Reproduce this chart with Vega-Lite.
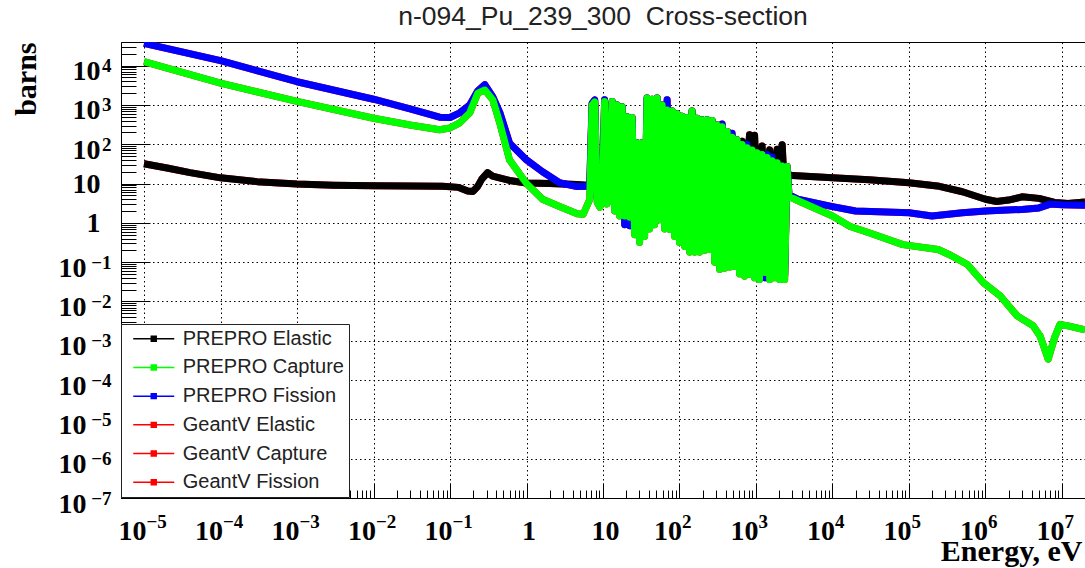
{
"$schema": "https://vega.github.io/schema/vega-lite/v6.json",
"width": 964, "height": 456,
"autosize": {"type": "none"},
"padding": {"left": 121, "top": 42, "right": 0, "bottom": 70},
"background": "white",
"title": {"text": "n-094_Pu_239_300 \u00a0Cross-section", "font": "Liberation Sans", "fontSize": 26.5, "fontWeight": "normal", "color": "#222", "anchor": "middle", "frame": "group", "baseline": "alphabetic", "offset": -10},
"config": {"view": {"stroke": "black", "strokeWidth": 1}},
"datasets": {
"pts": [
{"series":"PREPRO Elastic","energy":1e-5,"barns":32},{"series":"PREPRO Elastic","energy":2e-5,"barns":25},{"series":"PREPRO Elastic","energy":4e-5,"barns":19},{"series":"PREPRO Elastic","energy":1e-4,"barns":14},{"series":"PREPRO Elastic","energy":3e-4,"barns":11.2},{"series":"PREPRO Elastic","energy":1e-3,"barns":9.8},{"series":"PREPRO Elastic","energy":3e-3,"barns":9.1},{"series":"PREPRO Elastic","energy":1e-2,"barns":8.8},{"series":"PREPRO Elastic","energy":3e-2,"barns":8.7},{"series":"PREPRO Elastic","energy":0.08,"barns":8.6},{"series":"PREPRO Elastic","energy":0.13,"barns":8.0},{"series":"PREPRO Elastic","energy":0.17,"barns":6.5},{"series":"PREPRO Elastic","energy":0.2,"barns":6.3},{"series":"PREPRO Elastic","energy":0.23,"barns":8.5},{"series":"PREPRO Elastic","energy":0.26,"barns":13},{"series":"PREPRO Elastic","energy":0.31,"barns":19},{"series":"PREPRO Elastic","energy":0.36,"barns":15.5},{"series":"PREPRO Elastic","energy":0.6,"barns":12},{"series":"PREPRO Elastic","energy":1,"barns":10.3},{"series":"PREPRO Elastic","energy":2,"barns":10},{"series":"PREPRO Elastic","energy":4.5,"barns":9.5},{"series":"PREPRO Elastic","energy":6.7,"barns":9},{"series":"PREPRO Elastic","energy":7.8,"barns":40},{"series":"PREPRO Elastic","energy":9.1,"barns":4.6},{"series":"PREPRO Elastic","energy":10.5,"barns":30},{"series":"PREPRO Elastic","energy":11.3,"barns":4.6},{"series":"PREPRO Elastic","energy":13.2,"barns":25},{"series":"PREPRO Elastic","energy":16.5,"barns":6},{"series":"PREPRO Elastic","energy":17.8,"barns":20},{"series":"PREPRO Elastic","energy":20.7,"barns":6},{"series":"PREPRO Elastic","energy":24,"barns":20},{"series":"PREPRO Elastic","energy":27.9,"barns":5},{"series":"PREPRO Elastic","energy":37.7,"barns":40},{"series":"PREPRO Elastic","energy":43.9,"barns":5},{"series":"PREPRO Elastic","energy":51,"barns":40},{"series":"PREPRO Elastic","energy":59.3,"barns":5},{"series":"PREPRO Elastic","energy":68.9,"barns":30},{"series":"PREPRO Elastic","energy":80.1,"barns":5},{"series":"PREPRO Elastic","energy":93.1,"barns":30},{"series":"PREPRO Elastic","energy":108,"barns":4},{"series":"PREPRO Elastic","energy":126,"barns":30},{"series":"PREPRO Elastic","energy":146,"barns":4},{"series":"PREPRO Elastic","energy":170,"barns":40},{"series":"PREPRO Elastic","energy":198,"barns":4},{"series":"PREPRO Elastic","energy":230,"barns":50},{"series":"PREPRO Elastic","energy":267,"barns":4},{"series":"PREPRO Elastic","energy":310,"barns":60},{"series":"PREPRO Elastic","energy":361,"barns":4},{"series":"PREPRO Elastic","energy":419,"barns":80},{"series":"PREPRO Elastic","energy":452,"barns":195},{"series":"PREPRO Elastic","energy":487,"barns":4},{"series":"PREPRO Elastic","energy":566,"barns":5},{"series":"PREPRO Elastic","energy":658,"barns":120},{"series":"PREPRO Elastic","energy":709,"barns":5},{"series":"PREPRO Elastic","energy":824,"barns":175},{"series":"PREPRO Elastic","energy":889,"barns":5},{"series":"PREPRO Elastic","energy":958,"barns":170},{"series":"PREPRO Elastic","energy":1030,"barns":5},{"series":"PREPRO Elastic","energy":1200,"barns":90},{"series":"PREPRO Elastic","energy":1300,"barns":5},{"series":"PREPRO Elastic","energy":1510,"barns":72},{"series":"PREPRO Elastic","energy":1620,"barns":5},{"series":"PREPRO Elastic","energy":1890,"barns":75},{"series":"PREPRO Elastic","energy":2040,"barns":5},{"series":"PREPRO Elastic","energy":2200,"barns":97},{"series":"PREPRO Elastic","energy":2370,"barns":5},{"series":"PREPRO Elastic","energy":2550,"barns":22},{"series":"PREPRO Elastic","energy":2700,"barns":16},{"series":"PREPRO Elastic","energy":3000,"barns":16},{"series":"PREPRO Elastic","energy":1e4,"barns":14},{"series":"PREPRO Elastic","energy":3e4,"barns":12.5},{"series":"PREPRO Elastic","energy":1e5,"barns":10.5},{"series":"PREPRO Elastic","energy":2.5e5,"barns":8.5},{"series":"PREPRO Elastic","energy":5e5,"barns":6.2},{"series":"PREPRO Elastic","energy":1e6,"barns":4},{"series":"PREPRO Elastic","energy":1.4e6,"barns":3.5},{"series":"PREPRO Elastic","energy":2e6,"barns":3.8},{"series":"PREPRO Elastic","energy":3e6,"barns":4.6},{"series":"PREPRO Elastic","energy":5e6,"barns":4.2},{"series":"PREPRO Elastic","energy":8e6,"barns":3.3},{"series":"PREPRO Elastic","energy":1.2e7,"barns":3.1},{"series":"PREPRO Elastic","energy":2e7,"barns":3.4},

{"series":"GeantV Elastic","energy":1e-5,"barns":32},{"series":"GeantV Elastic","energy":2e-5,"barns":25},{"series":"GeantV Elastic","energy":4e-5,"barns":19},{"series":"GeantV Elastic","energy":1e-4,"barns":14},{"series":"GeantV Elastic","energy":3e-4,"barns":11.2},{"series":"GeantV Elastic","energy":1e-3,"barns":9.8},{"series":"GeantV Elastic","energy":3e-3,"barns":9.1},{"series":"GeantV Elastic","energy":1e-2,"barns":8.8},{"series":"GeantV Elastic","energy":3e-2,"barns":8.7},{"series":"GeantV Elastic","energy":0.08,"barns":8.6},{"series":"GeantV Elastic","energy":0.13,"barns":8.0},{"series":"GeantV Elastic","energy":0.17,"barns":6.5},{"series":"GeantV Elastic","energy":0.2,"barns":6.3},{"series":"GeantV Elastic","energy":0.23,"barns":8.5},{"series":"GeantV Elastic","energy":0.26,"barns":13},{"series":"GeantV Elastic","energy":0.31,"barns":19},{"series":"GeantV Elastic","energy":0.36,"barns":15.5},{"series":"GeantV Elastic","energy":0.6,"barns":12},{"series":"GeantV Elastic","energy":1,"barns":10.3},{"series":"GeantV Elastic","energy":2,"barns":10},{"series":"GeantV Elastic","energy":4.5,"barns":9.5},{"series":"GeantV Elastic","energy":6.7,"barns":9},{"series":"GeantV Elastic","energy":7.8,"barns":40},{"series":"GeantV Elastic","energy":9.1,"barns":4.6},{"series":"GeantV Elastic","energy":10.5,"barns":30},{"series":"GeantV Elastic","energy":11.3,"barns":4.6},{"series":"GeantV Elastic","energy":13.2,"barns":25},{"series":"GeantV Elastic","energy":16.5,"barns":6},{"series":"GeantV Elastic","energy":17.8,"barns":20},{"series":"GeantV Elastic","energy":20.7,"barns":6},{"series":"GeantV Elastic","energy":24,"barns":20},{"series":"GeantV Elastic","energy":27.9,"barns":5},{"series":"GeantV Elastic","energy":37.7,"barns":40},{"series":"GeantV Elastic","energy":43.9,"barns":5},{"series":"GeantV Elastic","energy":51,"barns":40},{"series":"GeantV Elastic","energy":59.3,"barns":5},{"series":"GeantV Elastic","energy":68.9,"barns":30},{"series":"GeantV Elastic","energy":80.1,"barns":5},{"series":"GeantV Elastic","energy":93.1,"barns":30},{"series":"GeantV Elastic","energy":108,"barns":4},{"series":"GeantV Elastic","energy":126,"barns":30},{"series":"GeantV Elastic","energy":146,"barns":4},{"series":"GeantV Elastic","energy":170,"barns":40},{"series":"GeantV Elastic","energy":198,"barns":4},{"series":"GeantV Elastic","energy":230,"barns":50},{"series":"GeantV Elastic","energy":267,"barns":4},{"series":"GeantV Elastic","energy":310,"barns":60},{"series":"GeantV Elastic","energy":361,"barns":4},{"series":"GeantV Elastic","energy":419,"barns":80},{"series":"GeantV Elastic","energy":452,"barns":195},{"series":"GeantV Elastic","energy":487,"barns":4},{"series":"GeantV Elastic","energy":566,"barns":5},{"series":"GeantV Elastic","energy":658,"barns":120},{"series":"GeantV Elastic","energy":709,"barns":5},{"series":"GeantV Elastic","energy":824,"barns":175},{"series":"GeantV Elastic","energy":889,"barns":5},{"series":"GeantV Elastic","energy":958,"barns":170},{"series":"GeantV Elastic","energy":1030,"barns":5},{"series":"GeantV Elastic","energy":1200,"barns":90},{"series":"GeantV Elastic","energy":1300,"barns":5},{"series":"GeantV Elastic","energy":1510,"barns":72},{"series":"GeantV Elastic","energy":1620,"barns":5},{"series":"GeantV Elastic","energy":1890,"barns":75},{"series":"GeantV Elastic","energy":2040,"barns":5},{"series":"GeantV Elastic","energy":2200,"barns":97},{"series":"GeantV Elastic","energy":2370,"barns":5},{"series":"GeantV Elastic","energy":2550,"barns":22},{"series":"GeantV Elastic","energy":2700,"barns":16},{"series":"GeantV Elastic","energy":3000,"barns":16},{"series":"GeantV Elastic","energy":1e4,"barns":14},{"series":"GeantV Elastic","energy":3e4,"barns":12.5},{"series":"GeantV Elastic","energy":1e5,"barns":10.5},{"series":"GeantV Elastic","energy":2.5e5,"barns":8.5},{"series":"GeantV Elastic","energy":5e5,"barns":6.2},{"series":"GeantV Elastic","energy":1e6,"barns":4},{"series":"GeantV Elastic","energy":1.4e6,"barns":3.5},{"series":"GeantV Elastic","energy":2e6,"barns":3.8},{"series":"GeantV Elastic","energy":3e6,"barns":4.6},{"series":"GeantV Elastic","energy":5e6,"barns":4.2},{"series":"GeantV Elastic","energy":8e6,"barns":3.3},{"series":"GeantV Elastic","energy":1.2e7,"barns":3.1},{"series":"GeantV Elastic","energy":2e7,"barns":3.4},

{"series":"PREPRO Capture","energy":1e-5,"barns":12600},{"series":"PREPRO Capture","energy":1e-4,"barns":3600},{"series":"PREPRO Capture","energy":1e-3,"barns":1230},{"series":"PREPRO Capture","energy":1e-2,"barns":460},{"series":"PREPRO Capture","energy":0.03,"barns":310},{"series":"PREPRO Capture","energy":0.073,"barns":235},{"series":"PREPRO Capture","energy":0.1,"barns":260},{"series":"PREPRO Capture","energy":0.134,"barns":350},{"series":"PREPRO Capture","energy":0.181,"barns":630},{"series":"PREPRO Capture","energy":0.231,"barns":2000},{"series":"PREPRO Capture","energy":0.285,"barns":2400},{"series":"PREPRO Capture","energy":0.363,"barns":1350},{"series":"PREPRO Capture","energy":0.447,"barns":350},{"series":"PREPRO Capture","energy":0.6,"barns":40},{"series":"PREPRO Capture","energy":1,"barns":10},{"series":"PREPRO Capture","energy":1.62,"barns":4},{"series":"PREPRO Capture","energy":2.7,"barns":2.6},{"series":"PREPRO Capture","energy":4.6,"barns":1.7},{"series":"PREPRO Capture","energy":5.5,"barns":1.65},{"series":"PREPRO Capture","energy":6.7,"barns":3.9},{"series":"PREPRO Capture","energy":7.2,"barns":1000},{"series":"PREPRO Capture","energy":7.8,"barns":1200},{"series":"PREPRO Capture","energy":8.4,"barns":3.3},{"series":"PREPRO Capture","energy":9.1,"barns":2.5},{"series":"PREPRO Capture","energy":9.8,"barns":3.5},{"series":"PREPRO Capture","energy":10.5,"barns":1230},{"series":"PREPRO Capture","energy":11.3,"barns":3},{"series":"PREPRO Capture","energy":12.2,"barns":5},{"series":"PREPRO Capture","energy":13.2,"barns":1230},{"series":"PREPRO Capture","energy":14.2,"barns":2},{"series":"PREPRO Capture","energy":15.3,"barns":1000},{"series":"PREPRO Capture","energy":16.5,"barns":1.5},{"series":"PREPRO Capture","energy":17.8,"barns":900},{"series":"PREPRO Capture","energy":19.2,"barns":1.5},{"series":"PREPRO Capture","energy":20.7,"barns":500},{"series":"PREPRO Capture","energy":22.3,"barns":1.4},{"series":"PREPRO Capture","energy":24.0,"barns":480},{"series":"PREPRO Capture","energy":25.9,"barns":0.5},{"series":"PREPRO Capture","energy":27.9,"barns":110},{"series":"PREPRO Capture","energy":30.1,"barns":0.32},{"series":"PREPRO Capture","energy":32.5,"barns":110},{"series":"PREPRO Capture","energy":35.0,"barns":0.45},{"series":"PREPRO Capture","energy":37.7,"barns":1500},{"series":"PREPRO Capture","energy":40.7,"barns":0.7},{"series":"PREPRO Capture","energy":43.9,"barns":1400},{"series":"PREPRO Capture","energy":47.3,"barns":0.9},{"series":"PREPRO Capture","energy":51.0,"barns":1500},{"series":"PREPRO Capture","energy":55.0,"barns":1.2},{"series":"PREPRO Capture","energy":59.3,"barns":1000},{"series":"PREPRO Capture","energy":63.9,"barns":0.7},{"series":"PREPRO Capture","energy":68.9,"barns":750},{"series":"PREPRO Capture","energy":74.3,"barns":0.68},{"series":"PREPRO Capture","energy":80.1,"barns":700},{"series":"PREPRO Capture","energy":86.3,"barns":0.45},{"series":"PREPRO Capture","energy":93.1,"barns":600},{"series":"PREPRO Capture","energy":100,"barns":0.32},{"series":"PREPRO Capture","energy":108,"barns":520},{"series":"PREPRO Capture","energy":117,"barns":0.25},{"series":"PREPRO Capture","energy":126,"barns":480},{"series":"PREPRO Capture","energy":136,"barns":0.18},{"series":"PREPRO Capture","energy":146,"barns":700},{"series":"PREPRO Capture","energy":158,"barns":0.18},{"series":"PREPRO Capture","energy":170,"barns":460},{"series":"PREPRO Capture","energy":183,"barns":0.18},{"series":"PREPRO Capture","energy":198,"barns":420},{"series":"PREPRO Capture","energy":213,"barns":0.2},{"series":"PREPRO Capture","energy":230,"barns":420},{"series":"PREPRO Capture","energy":248,"barns":0.21},{"series":"PREPRO Capture","energy":267,"barns":400},{"series":"PREPRO Capture","energy":288,"barns":0.1},{"series":"PREPRO Capture","energy":310,"barns":310},{"series":"PREPRO Capture","energy":335,"barns":0.065},{"series":"PREPRO Capture","energy":361,"barns":280},{"series":"PREPRO Capture","energy":389,"barns":0.07},{"series":"PREPRO Capture","energy":419,"barns":210},{"series":"PREPRO Capture","energy":452,"barns":0.075},{"series":"PREPRO Capture","energy":487,"barns":150},{"series":"PREPRO Capture","energy":525,"barns":0.078},{"series":"PREPRO Capture","energy":566,"barns":130},{"series":"PREPRO Capture","energy":610,"barns":0.05},{"series":"PREPRO Capture","energy":658,"barns":98},{"series":"PREPRO Capture","energy":709,"barns":0.044},{"series":"PREPRO Capture","energy":765,"barns":82},{"series":"PREPRO Capture","energy":824,"barns":0.049},{"series":"PREPRO Capture","energy":889,"barns":72},{"series":"PREPRO Capture","energy":958,"barns":0.04},{"series":"PREPRO Capture","energy":1030,"barns":61},{"series":"PREPRO Capture","energy":1110,"barns":0.036},{"series":"PREPRO Capture","energy":1200,"barns":55},{"series":"PREPRO Capture","energy":1300,"barns":0.055},{"series":"PREPRO Capture","energy":1400,"barns":46},{"series":"PREPRO Capture","energy":1510,"barns":0.036},{"series":"PREPRO Capture","energy":1620,"barns":38},{"series":"PREPRO Capture","energy":1750,"barns":0.04},{"series":"PREPRO Capture","energy":1890,"barns":34},{"series":"PREPRO Capture","energy":2040,"barns":0.036},{"series":"PREPRO Capture","energy":2200,"barns":28},{"series":"PREPRO Capture","energy":2370,"barns":0.036},{"series":"PREPRO Capture","energy":2550,"barns":27},{"series":"PREPRO Capture","energy":2700,"barns":4.7},{"series":"PREPRO Capture","energy":4000,"barns":3.3},{"series":"PREPRO Capture","energy":1e4,"barns":1.5},{"series":"PREPRO Capture","energy":1.7e4,"barns":0.81},{"series":"PREPRO Capture","energy":3e4,"barns":0.56},{"series":"PREPRO Capture","energy":8.3e4,"barns":0.28},{"series":"PREPRO Capture","energy":2.4e5,"barns":0.21},{"series":"PREPRO Capture","energy":3.5e5,"barns":0.15},{"series":"PREPRO Capture","energy":5.8e5,"barns":0.087},{"series":"PREPRO Capture","energy":9.4e5,"barns":0.03},{"series":"PREPRO Capture","energy":1.55e6,"barns":0.014},{"series":"PREPRO Capture","energy":2.6e6,"barns":0.0043},{"series":"PREPRO Capture","energy":4.2e6,"barns":0.0024},{"series":"PREPRO Capture","energy":5.2e6,"barns":0.0013},{"series":"PREPRO Capture","energy":6.6e6,"barns":0.00034},{"series":"PREPRO Capture","energy":8e6,"barns":0.0012},{"series":"PREPRO Capture","energy":9.4e6,"barns":0.0026},{"series":"PREPRO Capture","energy":1.2e7,"barns":0.0024},{"series":"PREPRO Capture","energy":2e7,"barns":0.0019},

{"series":"GeantV Capture","energy":1e-5,"barns":12600},{"series":"GeantV Capture","energy":1e-4,"barns":3600},{"series":"GeantV Capture","energy":1e-3,"barns":1230},{"series":"GeantV Capture","energy":1e-2,"barns":460},{"series":"GeantV Capture","energy":0.03,"barns":310},{"series":"GeantV Capture","energy":0.073,"barns":235},{"series":"GeantV Capture","energy":0.1,"barns":260},{"series":"GeantV Capture","energy":0.134,"barns":350},{"series":"GeantV Capture","energy":0.181,"barns":630},{"series":"GeantV Capture","energy":0.231,"barns":2000},{"series":"GeantV Capture","energy":0.285,"barns":2400},{"series":"GeantV Capture","energy":0.363,"barns":1350},{"series":"GeantV Capture","energy":0.447,"barns":350},{"series":"GeantV Capture","energy":0.6,"barns":40},{"series":"GeantV Capture","energy":1,"barns":10},{"series":"GeantV Capture","energy":1.62,"barns":4},{"series":"GeantV Capture","energy":2.7,"barns":2.6},{"series":"GeantV Capture","energy":4.6,"barns":1.7},{"series":"GeantV Capture","energy":5.5,"barns":1.65},{"series":"GeantV Capture","energy":6.7,"barns":3.9},{"series":"GeantV Capture","energy":7.2,"barns":1000},{"series":"GeantV Capture","energy":7.8,"barns":1200},{"series":"GeantV Capture","energy":8.4,"barns":3.3},{"series":"GeantV Capture","energy":9.1,"barns":2.5},{"series":"GeantV Capture","energy":9.8,"barns":3.5},{"series":"GeantV Capture","energy":10.5,"barns":1230},{"series":"GeantV Capture","energy":11.3,"barns":3},{"series":"GeantV Capture","energy":12.2,"barns":5},{"series":"GeantV Capture","energy":13.2,"barns":1230},{"series":"GeantV Capture","energy":14.2,"barns":2},{"series":"GeantV Capture","energy":15.3,"barns":1000},{"series":"GeantV Capture","energy":16.5,"barns":1.5},{"series":"GeantV Capture","energy":17.8,"barns":900},{"series":"GeantV Capture","energy":19.2,"barns":1.5},{"series":"GeantV Capture","energy":20.7,"barns":500},{"series":"GeantV Capture","energy":22.3,"barns":1.4},{"series":"GeantV Capture","energy":24.0,"barns":480},{"series":"GeantV Capture","energy":25.9,"barns":0.5},{"series":"GeantV Capture","energy":27.9,"barns":110},{"series":"GeantV Capture","energy":30.1,"barns":0.32},{"series":"GeantV Capture","energy":32.5,"barns":110},{"series":"GeantV Capture","energy":35.0,"barns":0.45},{"series":"GeantV Capture","energy":37.7,"barns":1500},{"series":"GeantV Capture","energy":40.7,"barns":0.7},{"series":"GeantV Capture","energy":43.9,"barns":1400},{"series":"GeantV Capture","energy":47.3,"barns":0.9},{"series":"GeantV Capture","energy":51.0,"barns":1500},{"series":"GeantV Capture","energy":55.0,"barns":1.2},{"series":"GeantV Capture","energy":59.3,"barns":1000},{"series":"GeantV Capture","energy":63.9,"barns":0.7},{"series":"GeantV Capture","energy":68.9,"barns":750},{"series":"GeantV Capture","energy":74.3,"barns":0.68},{"series":"GeantV Capture","energy":80.1,"barns":700},{"series":"GeantV Capture","energy":86.3,"barns":0.45},{"series":"GeantV Capture","energy":93.1,"barns":600},{"series":"GeantV Capture","energy":100,"barns":0.32},{"series":"GeantV Capture","energy":108,"barns":520},{"series":"GeantV Capture","energy":117,"barns":0.25},{"series":"GeantV Capture","energy":126,"barns":480},{"series":"GeantV Capture","energy":136,"barns":0.18},{"series":"GeantV Capture","energy":146,"barns":700},{"series":"GeantV Capture","energy":158,"barns":0.18},{"series":"GeantV Capture","energy":170,"barns":460},{"series":"GeantV Capture","energy":183,"barns":0.18},{"series":"GeantV Capture","energy":198,"barns":420},{"series":"GeantV Capture","energy":213,"barns":0.2},{"series":"GeantV Capture","energy":230,"barns":420},{"series":"GeantV Capture","energy":248,"barns":0.21},{"series":"GeantV Capture","energy":267,"barns":400},{"series":"GeantV Capture","energy":288,"barns":0.1},{"series":"GeantV Capture","energy":310,"barns":310},{"series":"GeantV Capture","energy":335,"barns":0.065},{"series":"GeantV Capture","energy":361,"barns":280},{"series":"GeantV Capture","energy":389,"barns":0.07},{"series":"GeantV Capture","energy":419,"barns":210},{"series":"GeantV Capture","energy":452,"barns":0.075},{"series":"GeantV Capture","energy":487,"barns":150},{"series":"GeantV Capture","energy":525,"barns":0.078},{"series":"GeantV Capture","energy":566,"barns":130},{"series":"GeantV Capture","energy":610,"barns":0.05},{"series":"GeantV Capture","energy":658,"barns":98},{"series":"GeantV Capture","energy":709,"barns":0.044},{"series":"GeantV Capture","energy":765,"barns":82},{"series":"GeantV Capture","energy":824,"barns":0.049},{"series":"GeantV Capture","energy":889,"barns":72},{"series":"GeantV Capture","energy":958,"barns":0.04},{"series":"GeantV Capture","energy":1030,"barns":61},{"series":"GeantV Capture","energy":1110,"barns":0.036},{"series":"GeantV Capture","energy":1200,"barns":55},{"series":"GeantV Capture","energy":1300,"barns":0.055},{"series":"GeantV Capture","energy":1400,"barns":46},{"series":"GeantV Capture","energy":1510,"barns":0.036},{"series":"GeantV Capture","energy":1620,"barns":38},{"series":"GeantV Capture","energy":1750,"barns":0.04},{"series":"GeantV Capture","energy":1890,"barns":34},{"series":"GeantV Capture","energy":2040,"barns":0.036},{"series":"GeantV Capture","energy":2200,"barns":28},{"series":"GeantV Capture","energy":2370,"barns":0.036},{"series":"GeantV Capture","energy":2550,"barns":27},{"series":"GeantV Capture","energy":2700,"barns":4.7},{"series":"GeantV Capture","energy":4000,"barns":3.3},{"series":"GeantV Capture","energy":1e4,"barns":1.5},{"series":"GeantV Capture","energy":1.7e4,"barns":0.81},{"series":"GeantV Capture","energy":3e4,"barns":0.56},{"series":"GeantV Capture","energy":8.3e4,"barns":0.28},{"series":"GeantV Capture","energy":2.4e5,"barns":0.21},{"series":"GeantV Capture","energy":3.5e5,"barns":0.15},{"series":"GeantV Capture","energy":5.8e5,"barns":0.087},{"series":"GeantV Capture","energy":9.4e5,"barns":0.03},{"series":"GeantV Capture","energy":1.55e6,"barns":0.014},{"series":"GeantV Capture","energy":2.6e6,"barns":0.0043},{"series":"GeantV Capture","energy":4.2e6,"barns":0.0024},{"series":"GeantV Capture","energy":5.2e6,"barns":0.0013},{"series":"GeantV Capture","energy":6.6e6,"barns":0.00034},{"series":"GeantV Capture","energy":8e6,"barns":0.0012},{"series":"GeantV Capture","energy":9.4e6,"barns":0.0026},{"series":"GeantV Capture","energy":1.2e7,"barns":0.0024},{"series":"GeantV Capture","energy":2e7,"barns":0.0019},

{"series":"PREPRO Fission","energy":1e-5,"barns":37000},{"series":"PREPRO Fission","energy":1e-4,"barns":13500},{"series":"PREPRO Fission","energy":1e-3,"barns":3900},{"series":"PREPRO Fission","energy":1e-2,"barns":1400},{"series":"PREPRO Fission","energy":0.03,"barns":800},{"series":"PREPRO Fission","energy":0.073,"barns":490},{"series":"PREPRO Fission","energy":0.1,"barns":480},{"series":"PREPRO Fission","energy":0.134,"barns":630},{"series":"PREPRO Fission","energy":0.181,"barns":1000},{"series":"PREPRO Fission","energy":0.231,"barns":2300},{"series":"PREPRO Fission","energy":0.285,"barns":3300},{"series":"PREPRO Fission","energy":0.363,"barns":1600},{"series":"PREPRO Fission","energy":0.447,"barns":650},{"series":"PREPRO Fission","energy":0.6,"barns":107},{"series":"PREPRO Fission","energy":1,"barns":40},{"series":"PREPRO Fission","energy":1.62,"barns":20},{"series":"PREPRO Fission","energy":2.7,"barns":10.5},{"series":"PREPRO Fission","energy":4.6,"barns":8.4},{"series":"PREPRO Fission","energy":6,"barns":8.5},{"series":"PREPRO Fission","energy":6.7,"barns":9},{"series":"PREPRO Fission","energy":7.2,"barns":1100},{"series":"PREPRO Fission","energy":7.8,"barns":1350},{"series":"PREPRO Fission","energy":8.4,"barns":4.3},{"series":"PREPRO Fission","energy":9.1,"barns":3.3},{"series":"PREPRO Fission","energy":9.8,"barns":4.5},{"series":"PREPRO Fission","energy":10.5,"barns":1350},{"series":"PREPRO Fission","energy":11.3,"barns":3.9},{"series":"PREPRO Fission","energy":12.2,"barns":6.5},{"series":"PREPRO Fission","energy":13.2,"barns":1230},{"series":"PREPRO Fission","energy":14.2,"barns":2.6},{"series":"PREPRO Fission","energy":15.3,"barns":1000},{"series":"PREPRO Fission","energy":16.5,"barns":1.9},{"series":"PREPRO Fission","energy":17.8,"barns":900},{"series":"PREPRO Fission","energy":19.2,"barns":0.9},{"series":"PREPRO Fission","energy":20.7,"barns":500},{"series":"PREPRO Fission","energy":22.3,"barns":0.85},{"series":"PREPRO Fission","energy":24.0,"barns":480},{"series":"PREPRO Fission","energy":25.9,"barns":0.65},{"series":"PREPRO Fission","energy":27.9,"barns":110},{"series":"PREPRO Fission","energy":30.1,"barns":0.42},{"series":"PREPRO Fission","energy":32.5,"barns":110},{"series":"PREPRO Fission","energy":35.0,"barns":0.6},{"series":"PREPRO Fission","energy":37.7,"barns":1500},{"series":"PREPRO Fission","energy":40.7,"barns":0.9},{"series":"PREPRO Fission","energy":43.9,"barns":1400},{"series":"PREPRO Fission","energy":47.3,"barns":1.2},{"series":"PREPRO Fission","energy":51.0,"barns":1500},{"series":"PREPRO Fission","energy":55.0,"barns":1.6},{"series":"PREPRO Fission","energy":59.3,"barns":1000},{"series":"PREPRO Fission","energy":63.9,"barns":0.9},{"series":"PREPRO Fission","energy":68.9,"barns":1350},{"series":"PREPRO Fission","energy":74.3,"barns":0.9},{"series":"PREPRO Fission","energy":80.1,"barns":700},{"series":"PREPRO Fission","energy":86.3,"barns":0.6},{"series":"PREPRO Fission","energy":93.1,"barns":600},{"series":"PREPRO Fission","energy":100,"barns":0.42},{"series":"PREPRO Fission","energy":108,"barns":520},{"series":"PREPRO Fission","energy":117,"barns":0.33},{"series":"PREPRO Fission","energy":126,"barns":480},{"series":"PREPRO Fission","energy":136,"barns":0.23},{"series":"PREPRO Fission","energy":146,"barns":700},{"series":"PREPRO Fission","energy":158,"barns":0.23},{"series":"PREPRO Fission","energy":170,"barns":460},{"series":"PREPRO Fission","energy":183,"barns":0.23},{"series":"PREPRO Fission","energy":198,"barns":420},{"series":"PREPRO Fission","energy":213,"barns":0.26},{"series":"PREPRO Fission","energy":230,"barns":420},{"series":"PREPRO Fission","energy":248,"barns":0.27},{"series":"PREPRO Fission","energy":267,"barns":400},{"series":"PREPRO Fission","energy":288,"barns":0.13},{"series":"PREPRO Fission","energy":310,"barns":310},{"series":"PREPRO Fission","energy":335,"barns":0.085},{"series":"PREPRO Fission","energy":361,"barns":330},{"series":"PREPRO Fission","energy":389,"barns":0.09},{"series":"PREPRO Fission","energy":419,"barns":210},{"series":"PREPRO Fission","energy":452,"barns":0.1},{"series":"PREPRO Fission","energy":487,"barns":190},{"series":"PREPRO Fission","energy":525,"barns":0.1},{"series":"PREPRO Fission","energy":566,"barns":130},{"series":"PREPRO Fission","energy":610,"barns":0.065},{"series":"PREPRO Fission","energy":658,"barns":98},{"series":"PREPRO Fission","energy":709,"barns":0.057},{"series":"PREPRO Fission","energy":765,"barns":100},{"series":"PREPRO Fission","energy":824,"barns":0.064},{"series":"PREPRO Fission","energy":889,"barns":72},{"series":"PREPRO Fission","energy":958,"barns":0.052},{"series":"PREPRO Fission","energy":1030,"barns":61},{"series":"PREPRO Fission","energy":1110,"barns":0.047},{"series":"PREPRO Fission","energy":1200,"barns":55},{"series":"PREPRO Fission","energy":1300,"barns":0.04},{"series":"PREPRO Fission","energy":1400,"barns":55},{"series":"PREPRO Fission","energy":1510,"barns":0.047},{"series":"PREPRO Fission","energy":1620,"barns":48},{"series":"PREPRO Fission","energy":1750,"barns":0.052},{"series":"PREPRO Fission","energy":1890,"barns":34},{"series":"PREPRO Fission","energy":2040,"barns":0.047},{"series":"PREPRO Fission","energy":2200,"barns":28},{"series":"PREPRO Fission","energy":2370,"barns":0.047},{"series":"PREPRO Fission","energy":2550,"barns":27},{"series":"PREPRO Fission","energy":2700,"barns":5.2},{"series":"PREPRO Fission","energy":3500,"barns":4},{"series":"PREPRO Fission","energy":1e4,"barns":2.6},{"series":"PREPRO Fission","energy":2e4,"barns":2.0},{"series":"PREPRO Fission","energy":1e5,"barns":1.8},{"series":"PREPRO Fission","energy":2e5,"barns":1.5},{"series":"PREPRO Fission","energy":5e5,"barns":1.8},{"series":"PREPRO Fission","energy":1e6,"barns":2.0},{"series":"PREPRO Fission","energy":3e6,"barns":2.2},{"series":"PREPRO Fission","energy":5e6,"barns":2.4},{"series":"PREPRO Fission","energy":7e6,"barns":3.0},{"series":"PREPRO Fission","energy":1e7,"barns":2.9},{"series":"PREPRO Fission","energy":2e7,"barns":2.8},

{"series":"GeantV Fission","energy":1e-5,"barns":37000},{"series":"GeantV Fission","energy":1e-4,"barns":13500},{"series":"GeantV Fission","energy":1e-3,"barns":3900},{"series":"GeantV Fission","energy":1e-2,"barns":1400},{"series":"GeantV Fission","energy":0.03,"barns":800},{"series":"GeantV Fission","energy":0.073,"barns":490},{"series":"GeantV Fission","energy":0.1,"barns":480},{"series":"GeantV Fission","energy":0.134,"barns":630},{"series":"GeantV Fission","energy":0.181,"barns":1000},{"series":"GeantV Fission","energy":0.231,"barns":2300},{"series":"GeantV Fission","energy":0.285,"barns":3300},{"series":"GeantV Fission","energy":0.363,"barns":1600},{"series":"GeantV Fission","energy":0.447,"barns":650},{"series":"GeantV Fission","energy":0.6,"barns":107},{"series":"GeantV Fission","energy":1,"barns":40},{"series":"GeantV Fission","energy":1.62,"barns":20},{"series":"GeantV Fission","energy":2.7,"barns":10.5},{"series":"GeantV Fission","energy":4.6,"barns":8.4},{"series":"GeantV Fission","energy":6,"barns":8.5},{"series":"GeantV Fission","energy":6.7,"barns":9},{"series":"GeantV Fission","energy":7.2,"barns":1100},{"series":"GeantV Fission","energy":7.8,"barns":1350},{"series":"GeantV Fission","energy":8.4,"barns":4.3},{"series":"GeantV Fission","energy":9.1,"barns":3.3},{"series":"GeantV Fission","energy":9.8,"barns":4.5},{"series":"GeantV Fission","energy":10.5,"barns":1350},{"series":"GeantV Fission","energy":11.3,"barns":3.9},{"series":"GeantV Fission","energy":12.2,"barns":6.5},{"series":"GeantV Fission","energy":13.2,"barns":1230},{"series":"GeantV Fission","energy":14.2,"barns":2.6},{"series":"GeantV Fission","energy":15.3,"barns":1000},{"series":"GeantV Fission","energy":16.5,"barns":1.9},{"series":"GeantV Fission","energy":17.8,"barns":900},{"series":"GeantV Fission","energy":19.2,"barns":0.9},{"series":"GeantV Fission","energy":20.7,"barns":500},{"series":"GeantV Fission","energy":22.3,"barns":0.85},{"series":"GeantV Fission","energy":24.0,"barns":480},{"series":"GeantV Fission","energy":25.9,"barns":0.65},{"series":"GeantV Fission","energy":27.9,"barns":110},{"series":"GeantV Fission","energy":30.1,"barns":0.42},{"series":"GeantV Fission","energy":32.5,"barns":110},{"series":"GeantV Fission","energy":35.0,"barns":0.6},{"series":"GeantV Fission","energy":37.7,"barns":1500},{"series":"GeantV Fission","energy":40.7,"barns":0.9},{"series":"GeantV Fission","energy":43.9,"barns":1400},{"series":"GeantV Fission","energy":47.3,"barns":1.2},{"series":"GeantV Fission","energy":51.0,"barns":1500},{"series":"GeantV Fission","energy":55.0,"barns":1.6},{"series":"GeantV Fission","energy":59.3,"barns":1000},{"series":"GeantV Fission","energy":63.9,"barns":0.9},{"series":"GeantV Fission","energy":68.9,"barns":1350},{"series":"GeantV Fission","energy":74.3,"barns":0.9},{"series":"GeantV Fission","energy":80.1,"barns":700},{"series":"GeantV Fission","energy":86.3,"barns":0.6},{"series":"GeantV Fission","energy":93.1,"barns":600},{"series":"GeantV Fission","energy":100,"barns":0.42},{"series":"GeantV Fission","energy":108,"barns":520},{"series":"GeantV Fission","energy":117,"barns":0.33},{"series":"GeantV Fission","energy":126,"barns":480},{"series":"GeantV Fission","energy":136,"barns":0.23},{"series":"GeantV Fission","energy":146,"barns":700},{"series":"GeantV Fission","energy":158,"barns":0.23},{"series":"GeantV Fission","energy":170,"barns":460},{"series":"GeantV Fission","energy":183,"barns":0.23},{"series":"GeantV Fission","energy":198,"barns":420},{"series":"GeantV Fission","energy":213,"barns":0.26},{"series":"GeantV Fission","energy":230,"barns":420},{"series":"GeantV Fission","energy":248,"barns":0.27},{"series":"GeantV Fission","energy":267,"barns":400},{"series":"GeantV Fission","energy":288,"barns":0.13},{"series":"GeantV Fission","energy":310,"barns":310},{"series":"GeantV Fission","energy":335,"barns":0.085},{"series":"GeantV Fission","energy":361,"barns":330},{"series":"GeantV Fission","energy":389,"barns":0.09},{"series":"GeantV Fission","energy":419,"barns":210},{"series":"GeantV Fission","energy":452,"barns":0.1},{"series":"GeantV Fission","energy":487,"barns":190},{"series":"GeantV Fission","energy":525,"barns":0.1},{"series":"GeantV Fission","energy":566,"barns":130},{"series":"GeantV Fission","energy":610,"barns":0.065},{"series":"GeantV Fission","energy":658,"barns":98},{"series":"GeantV Fission","energy":709,"barns":0.057},{"series":"GeantV Fission","energy":765,"barns":100},{"series":"GeantV Fission","energy":824,"barns":0.064},{"series":"GeantV Fission","energy":889,"barns":72},{"series":"GeantV Fission","energy":958,"barns":0.052},{"series":"GeantV Fission","energy":1030,"barns":61},{"series":"GeantV Fission","energy":1110,"barns":0.047},{"series":"GeantV Fission","energy":1200,"barns":55},{"series":"GeantV Fission","energy":1300,"barns":0.04},{"series":"GeantV Fission","energy":1400,"barns":55},{"series":"GeantV Fission","energy":1510,"barns":0.047},{"series":"GeantV Fission","energy":1620,"barns":48},{"series":"GeantV Fission","energy":1750,"barns":0.052},{"series":"GeantV Fission","energy":1890,"barns":34},{"series":"GeantV Fission","energy":2040,"barns":0.047},{"series":"GeantV Fission","energy":2200,"barns":28},{"series":"GeantV Fission","energy":2370,"barns":0.047},{"series":"GeantV Fission","energy":2550,"barns":27},{"series":"GeantV Fission","energy":2700,"barns":5.2},{"series":"GeantV Fission","energy":3500,"barns":4},{"series":"GeantV Fission","energy":1e4,"barns":2.6},{"series":"GeantV Fission","energy":2e4,"barns":2.0},{"series":"GeantV Fission","energy":1e5,"barns":1.8},{"series":"GeantV Fission","energy":2e5,"barns":1.5},{"series":"GeantV Fission","energy":5e5,"barns":1.8},{"series":"GeantV Fission","energy":1e6,"barns":2.0},{"series":"GeantV Fission","energy":3e6,"barns":2.2},{"series":"GeantV Fission","energy":5e6,"barns":2.4},{"series":"GeantV Fission","energy":7e6,"barns":3.0},{"series":"GeantV Fission","energy":1e7,"barns":2.9},{"series":"GeantV Fission","energy":2e7,"barns":2.8}
]
},
"data": {"name": "pts"},
"resolve": {"scale": {"x": "independent", "y": "independent"}},
"encoding": {
 "color": {"field": "series", "type": "nominal",
  "scale": {"domain": ["PREPRO Elastic", "PREPRO Capture", "PREPRO Fission", "GeantV Elastic", "GeantV Capture", "GeantV Fission"],
            "range": ["#000000", "#00ff00", "#0000ff", "#ff0000", "#ff0000", "#ff0000"]},
  "legend": {"title": null, "orient": "none", "legendX": 0, "legendY": 282, "direction": "vertical",
   "padding": 4.75, "rowPadding": 8.7, "strokeColor": "#222", "fillColor": "white",
   "labelFont": "Liberation Sans", "labelFontSize": 20, "labelColor": "#222", "labelLimit": 400,
   "symbolType": "M-3,0H3M-0.36,-0.36H0.36V0.36H-0.36Z", "symbolSize": 187, "symbolStrokeWidth": 1.5,
   "symbolOffset": 18, "labelOffset": 19,
   "encode": {"symbols": {"update": {"fill": {"scale": "color", "field": "value"}, "stroke": {"scale": "color", "field": "value"}, "fillOpacity": {"value": 1}, "strokeOpacity": {"value": 1}}}}
  }
 }
},
"layer": [
 {"transform": [{"filter": {"field": "series", "oneOf": ["GeantV Elastic", "GeantV Capture", "GeantV Fission"]}}],
  "mark": {"type": "line", "strokeWidth": 7, "strokeJoin": "round", "clip": true},
  "encoding": {
   "x": {"field": "energy", "type": "quantitative", "scale": {"type": "log", "domain": [5e-6, 2e7], "nice": false},
    "axis": {"orient": "bottom", "values": [1e-5,1e-4,1e-3,0.01,0.1,1,10,100,1000,1e4,1e5,1e6,1e7],
     "labels": false, "ticks": true, "tickSize": -15, "tickColor": "black", "tickWidth": 1,
     "grid": true, "gridColor": "black", "gridDash": [1.5, 3], "gridWidth": 1, "gridOpacity": 1, "domain": false,
     "title": "Energy, eV", "titleFont": "Liberation Serif", "titleFontWeight": "bold", "titleFontSize": 30, "titleColor": "black",
     "titleAnchor": "end", "titleAlign": "right", "titleBaseline": "alphabetic", "titleX": 961, "titleY": 62}},
   "y": {"field": "barns", "type": "quantitative", "scale": {"type": "log", "domain": [1e-7, 4e4], "nice": false},
    "axis": {"orient": "left", "values": [1e-7,1e-6,1e-5,1e-4,1e-3,0.01,0.1,1,10,100,1000,1e4],
     "labels": false, "ticks": true, "tickSize": -29, "tickColor": "black", "tickWidth": 1,
     "grid": true, "gridColor": "black", "gridDash": [1.5, 3], "gridWidth": 1, "gridOpacity": 1, "domain": false,
     "title": "barns", "titleFont": "Liberation Serif", "titleFontWeight": "bold", "titleFontSize": 30, "titleColor": "black",
     "titleAngle": 270, "titleAnchor": "end", "titleAlign": "right", "titleBaseline": "alphabetic", "titleX": -86, "titleY": 0}}
  }},
 {"transform": [{"filter": {"field": "series", "equal": "PREPRO Elastic"}}],
  "mark": {"type": "line", "strokeWidth": 7, "strokeJoin": "round", "clip": true},
  "encoding": {
   "x": {"field": "energy", "type": "quantitative", "scale": {"type": "log", "domain": [5e-6, 2e7], "nice": false},
    "axis": {"orient": "bottom", "values": [5e-6,6e-6,7e-6,8e-6,9e-6,2e-5,3e-5,4e-5,5e-5,6e-5,7e-5,8e-5,9e-5,2e-4,3e-4,4e-4,5e-4,6e-4,7e-4,8e-4,9e-4,2e-3,3e-3,4e-3,5e-3,6e-3,7e-3,8e-3,9e-3,0.02,0.03,0.04,0.05,0.06,0.07,0.08,0.09,0.2,0.3,0.4,0.5,0.6,0.7,0.8,0.9,2,3,4,5,6,7,8,9,20,30,40,50,60,70,80,90,200,300,400,500,600,700,800,900,2000,3000,4000,5000,6000,7000,8000,9000,2e4,3e4,4e4,5e4,6e4,7e4,8e4,9e4,2e5,3e5,4e5,5e5,6e5,7e5,8e5,9e5,2e6,3e6,4e6,5e6,6e6,7e6,8e6,9e6,2e7],
     "labels": false, "ticks": true, "tickSize": -8, "tickColor": "black", "tickWidth": 1,
     "grid": false, "domain": false, "title": null}},
   "y": {"field": "barns", "type": "quantitative", "scale": {"type": "log", "domain": [1e-7, 4e4], "nice": false},
    "axis": {"orient": "left", "values": [2e-7,3e-7,4e-7,5e-7,6e-7,7e-7,8e-7,9e-7,2e-6,3e-6,4e-6,5e-6,6e-6,7e-6,8e-6,9e-6,2e-5,3e-5,4e-5,5e-5,6e-5,7e-5,8e-5,9e-5,2e-4,3e-4,4e-4,5e-4,6e-4,7e-4,8e-4,9e-4,2e-3,3e-3,4e-3,5e-3,6e-3,7e-3,8e-3,9e-3,0.02,0.03,0.04,0.05,0.06,0.07,0.08,0.09,0.2,0.3,0.4,0.5,0.6,0.7,0.8,0.9,2,3,4,5,6,7,8,9,20,30,40,50,60,70,80,90,200,300,400,500,600,700,800,900,2000,3000,4000,5000,6000,7000,8000,9000,2e4,3e4,4e4],
     "labels": false, "ticks": true, "tickSize": -15, "tickColor": "black", "tickWidth": 1,
     "grid": false, "domain": false, "title": null}}
  }},
 {"transform": [{"filter": {"field": "series", "equal": "PREPRO Fission"}}],
  "mark": {"type": "line", "strokeWidth": 7, "strokeJoin": "round", "clip": true},
  "encoding": {
   "x": {"field": "energy", "type": "quantitative", "scale": {"type": "log", "domain": [5e-6, 2e7], "nice": false},
    "axis": {"orient": "bottom", "values": [1e-5,1e-4,1e-3,0.01,0.1,1,10,100,1000,1e4,1e5,1e6,1e7],
     "ticks": false, "tickSize": 0, "grid": false, "domain": false, "title": null,
     "labelExpr": "datum.value == 1 ? '1' : '10'",
     "labelAlign": {"condition": {"test": "datum.value == 1 || datum.value == 10", "value": "center"}, "value": "right"},
     "labelOffset": 2, "labelBaseline": "alphabetic", "labelPadding": 41,
     "labelFont": "Liberation Serif", "labelFontWeight": "bold", "labelFontSize": 28, "labelColor": "black",
     "labelOverlap": false, "labelFlush": false, "labelBound": false}},
   "y": {"field": "barns", "type": "quantitative", "scale": {"type": "log", "domain": [1e-7, 4e4], "nice": false},
    "axis": {"orient": "left", "values": [1e-7,1e-6,1e-5,1e-4,1e-3,0.01,0.1,1,10,100,1000,1e4],
     "ticks": false, "tickSize": 0, "grid": false, "domain": false, "title": null,
     "labelExpr": "datum.value == 1 ? '1' : '10'",
     "labelAlign": {"condition": [{"test": "datum.value < 1", "value": "right"}, {"test": "datum.value == 1", "value": "left"}], "value": "center"},
     "labelBaseline": "alphabetic", "labelPadding": 35,
     "labelOffset": {"condition": {"test": "datum.value == 1 || datum.value == 10", "value": 9}, "value": 14},
     "labelFont": "Liberation Serif", "labelFontWeight": "bold", "labelFontSize": 28, "labelColor": "black",
     "labelOverlap": false, "labelFlush": false, "labelBound": false}}
  }},
 {"transform": [{"filter": {"field": "series", "equal": "PREPRO Capture"}}],
  "mark": {"type": "line", "strokeWidth": 7, "strokeJoin": "round", "clip": true},
  "encoding": {
   "x": {"field": "energy", "type": "quantitative", "scale": {"type": "log", "domain": [5e-6, 2e7], "nice": false},
    "axis": {"orient": "bottom", "values": [1e-5,1e-4,1e-3,0.01,0.1,1,10,100,1000,1e4,1e5,1e6,1e7],
     "ticks": false, "tickSize": 0, "grid": false, "domain": false, "title": null,
     "labelExpr": "datum.value == 1 || datum.value == 10 ? '' : (datum.value < 1 ? '\u2212' : '') + abs(round(log(datum.value)/LN10))",
     "labelAlign": "left", "labelOffset": 2, "labelBaseline": "alphabetic", "labelPadding": 29,
     "labelFont": "Liberation Serif", "labelFontWeight": "bold", "labelFontSize": 19, "labelColor": "black",
     "labelOverlap": false, "labelFlush": false, "labelBound": false}},
   "y": {"field": "barns", "type": "quantitative", "scale": {"type": "log", "domain": [1e-7, 4e4], "nice": false},
    "axis": {"orient": "left", "values": [1e-7,1e-6,1e-5,1e-4,1e-3,0.01,0.1,1,10,100,1000,1e4],
     "ticks": false, "tickSize": 0, "grid": false, "domain": false, "title": null,
     "labelExpr": "datum.value == 1 || datum.value == 10 ? '' : (datum.value < 1 ? '\u2212' : '') + abs(round(log(datum.value)/LN10))",
     "labelAlign": "right", "labelBaseline": "alphabetic", "labelPadding": 10, "labelOffset": 6,
     "labelFont": "Liberation Serif", "labelFontWeight": "bold", "labelFontSize": 19, "labelColor": "black",
     "labelOverlap": false, "labelFlush": false, "labelBound": false}}
  }}
]
}
